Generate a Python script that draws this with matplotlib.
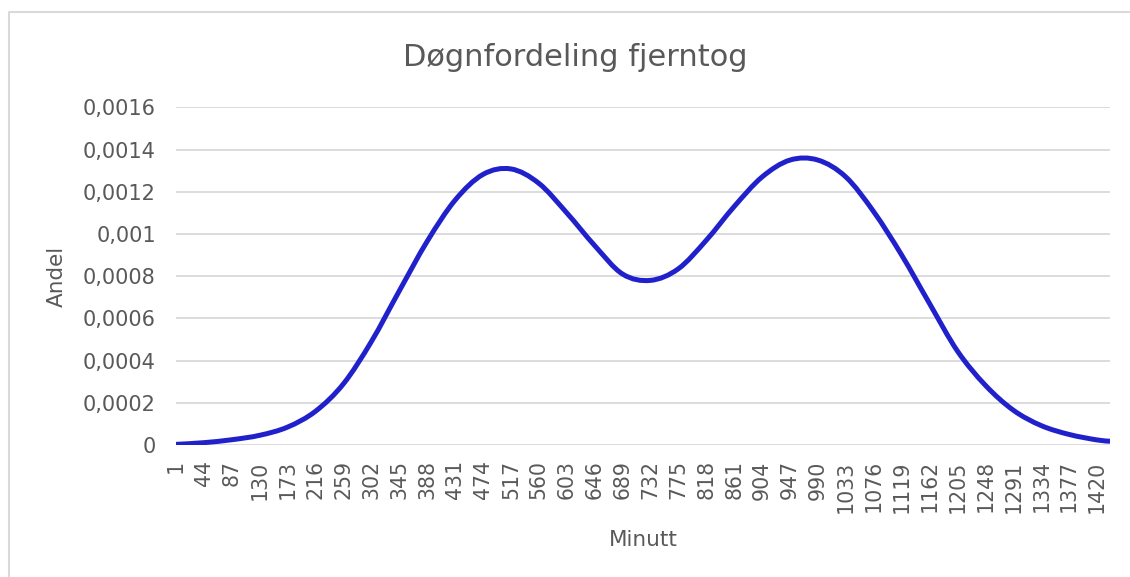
import numpy as np
import matplotlib
matplotlib.use("Agg")
import matplotlib.pyplot as plt
from matplotlib.lines import Line2D
from matplotlib.path import Path
from matplotlib.patches import PathPatch

# values (minute of day -> share)
minutes = [1, 44, 87, 130, 173, 216, 259, 302, 345, 388, 431, 474, 517,
           560, 603, 646, 689, 732, 775, 818, 861, 904, 947, 990, 1033,
           1076, 1119, 1162, 1205, 1248, 1291, 1334, 1377, 1420, 1440]
andel = [0.000003, 0.000011, 0.000025, 0.000046, 0.000085, 0.000160,
         0.000290, 0.000490, 0.000730, 0.000965, 0.001160, 0.001282,
         0.001308, 0.001240, 0.001100, 0.000945, 0.000810, 0.000780,
         0.000835, 0.000970, 0.001130, 0.001270, 0.001350, 0.001350,
         0.001270, 0.001105, 0.000900, 0.000670, 0.000445, 0.000283,
         0.000165, 0.000092, 0.000050, 0.000024, 0.000018]

x_ticks = list(range(1, 1421, 43))
y_ticks = [0, 0.0002, 0.0004, 0.0006, 0.0008, 0.001, 0.0012, 0.0014, 0.0016]
y_labels = ["0", "0,0002", "0,0004", "0,0006", "0,0008", "0,001",
            "0,0012", "0,0014", "0,0016"]

TXT = "#595959"
GRID = "#d9d9d9"


def smooth_path(xs, ys):
    # Excel-style smoothed line: cubic Bezier segments through the points
    p = np.column_stack([xs, ys]).astype(float)
    n = len(p)
    verts = [p[0]]
    codes = [Path.MOVETO]
    for i in range(n - 1):
        p0 = p[i - 1] if i > 0 else p[i]
        p3 = p[i + 2] if i + 2 < n else p[i + 1]
        c1 = p[i] + (p[i + 1] - p0) / 6
        c2 = p[i + 1] - (p3 - p[i]) / 6
        verts += [c1, c2, p[i + 1]]
        codes += [Path.CURVE4] * 3
    return Path(verts, codes)


fig = plt.figure(figsize=(11.3, 5.77), dpi=100)
ax = fig.add_axes([176 / 1130, 1 - 445 / 577, 934 / 1130, 337.7 / 577])

ax.add_patch(PathPatch(smooth_path(minutes, andel), fill=False,
                       edgecolor="#2121cc", lw=3.6, capstyle="round",
                       joinstyle="round", zorder=3))

ax.set_xlim(1, 1440)
ax.set_ylim(0, 0.0016)
ax.set_yticks(y_ticks)
ax.set_yticklabels(y_labels)
ax.set_xticks(x_ticks)
ax.set_xticklabels([str(t) for t in x_ticks], rotation=90)
ax.tick_params(axis="x", length=0, pad=11, labelsize=14.8, labelcolor=TXT)
ax.tick_params(axis="y", length=0, pad=14.5, labelsize=15, labelcolor=TXT)
ax.grid(axis="y", color=GRID, lw=1.3)
ax.grid(axis="x", visible=False)
for s in ax.spines.values():
    s.set_visible(False)
ax.set_axisbelow(True)

fig.text(575 / 1130, 1 - 66.5 / 577, "Døgnfordeling fjerntog", ha="center",
         va="baseline", fontsize=22, color=TXT)
fig.text(57 / 1130, 1 - 276 / 577, "Andel", ha="center", va="center",
         rotation=90, fontsize=15.5, color=TXT)
fig.text(643 / 1130, 1 - 540 / 577, "Minutt", ha="center", va="center",
         fontsize=15.5, color=TXT)

# chart frame (left and top edges visible in the crop)
fig.add_artist(Line2D([9 / 1130, 9 / 1130, 1.01], [0, 1 - 12 / 577, 1 - 12 / 577],
                      color=GRID, lw=1.5, transform=fig.transFigure))

fig.savefig("out.png", dpi=100)
